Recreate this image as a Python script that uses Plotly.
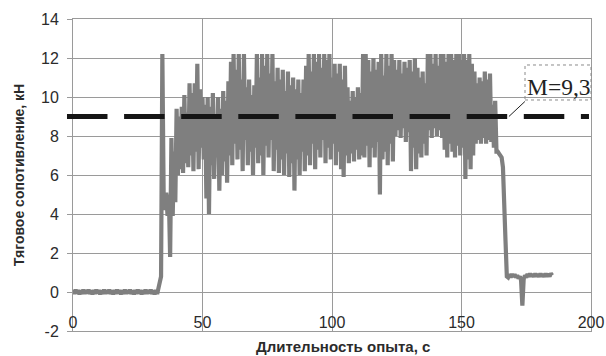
import plotly.graph_objects as go

SAMPLE_STEP = 0.5

baseline = [0.10, -0.10, 0.12, -0.08, 0.10, -0.12, 0.08, -0.10, 0.12, -0.10,
            0.10, -0.08, 0.12, -0.10, 0.08, -0.12, 0.10, -0.10, 0.12, -0.08,
            0.10, -0.12, 0.08, -0.10, 0.12, -0.10, 0.10, -0.08, 0.12, -0.10,
            0.08, -0.12, 0.10, -0.10, 0.12, -0.08, 0.10, -0.12, 0.08, -0.10,
            0.12, -0.10, 0.10, -0.08, 0.12, -0.10, 0.08, -0.12, 0.10, -0.10,
            0.12, -0.08, 0.10, -0.12, 0.08, -0.10, 0.12, -0.10, 0.10, -0.08,
            0.12, -0.10, 0.08, -0.12, 0.10, -0.10]  # 0.0 .. 32.5 s

start = [0.2, 0.6, 0.8, 12.2, 5.0, 4.2, 5.1, 3.9, 5.0, 1.8,
         7.9, 3.9, 7.2, 4.6]  # 33.0 .. 39.5 s

working = [
    9.4, 6.0, 9.0, 6.3, 9.5, 6.1, 10.1, 6.6, 9.2, 6.4,        # 40-44
    10.7, 7.0, 10.2, 6.2, 10.7, 7.2, 11.7, 6.3, 10.4, 7.4,    # 45-49
    10.0, 6.8, 9.6, 4.8, 10.0, 4.0, 9.5, 6.5, 10.2, 5.8,      # 50-54
    9.1, 6.9, 10.0, 5.2, 9.4, 6.0, 10.3, 6.7, 9.8, 5.6,       # 55-59
    10.8, 7.0, 11.8, 6.5, 12.2, 7.6, 11.4, 6.8, 12.2, 7.3,    # 60-64
    10.9, 6.2, 12.2, 7.8, 10.5, 6.5, 10.9, 7.2, 10.1, 6.0,    # 65-69
    10.6, 7.4, 12.2, 6.6, 11.0, 7.0, 12.2, 6.0, 11.6, 7.5,    # 70-74
    12.2, 6.9, 11.2, 7.8, 12.2, 6.2, 10.8, 7.3, 11.5, 6.1,    # 75-79
    10.9, 6.8, 11.4, 6.0, 10.3, 7.1, 11.3, 5.9, 10.6, 6.6,    # 80-84
    11.0, 5.2, 10.4, 6.8, 10.9, 6.0, 10.2, 7.2, 10.9, 6.2,    # 85-89
    11.6, 7.0, 12.2, 6.5, 11.3, 7.6, 12.2, 6.3, 11.8, 7.3,    # 90-94
    12.2, 6.9, 11.5, 7.8, 12.2, 6.6, 11.9, 7.4, 12.2, 6.8,    # 95-99
    11.0, 7.6, 11.7, 6.5, 11.2, 7.2, 11.7, 6.3, 10.9, 5.9,    # 100-104
    11.6, 7.0, 10.5, 6.6, 9.8, 7.1, 10.3, 6.7, 10.0, 7.3,     # 105-109
    10.5, 6.8, 10.2, 7.0, 12.2, 6.9, 12.2, 7.5, 11.9, 6.4,    # 110-114
    11.3, 7.4, 12.0, 6.9, 11.4, 7.7, 11.8, 5.0, 12.2, 6.8,    # 115-119
    11.1, 7.2, 12.2, 6.5, 11.6, 7.6, 12.2, 6.7, 11.9, 8.0,    # 120-124
    11.4, 8.3, 11.9, 7.9, 11.2, 8.4, 11.8, 7.7, 11.5, 8.2,    # 125-129
    11.9, 6.2, 11.3, 7.4, 12.0, 6.3, 11.5, 7.1, 11.0, 6.9,    # 130-134
    11.3, 7.6, 10.7, 7.0, 12.2, 8.3, 12.2, 7.9, 11.7, 8.4,    # 135-139
    12.2, 8.0, 11.6, 8.3, 12.2, 7.9, 12.2, 7.3, 11.8, 6.9,    # 140-144
    12.2, 7.6, 12.2, 7.2, 11.9, 6.9, 12.2, 7.5, 12.2, 7.0,    # 145-149
    11.9, 7.4, 12.2, 5.8, 11.9, 6.8, 12.2, 6.3, 11.7, 7.0,    # 150-154
    11.3, 7.6, 10.7, 7.8, 11.0, 7.6, 10.8, 7.9, 11.3, 7.6,    # 155-159
    10.9, 7.8, 11.2, 7.7, 9.6, 7.4, 9.8, 7.2,                 # 160-163
]

stop = [7.2, 7.1, 7.0, 6.9, 6.4, 5.0, 2.6, 0.8, 0.75]  # 164.0 .. 168.0 s

tail = [0.90, 0.75, 0.92, 0.78, 0.90, 0.75, 0.85, 0.70, 0.80, 0.60,
        -0.70, 0.65, 0.85, 0.75, 0.92, 0.78, 0.95, 0.80, 0.92, 0.78,
        0.95, 0.80, 0.92, 0.78, 0.95, 0.80, 0.92, 0.78, 0.95, 0.80,
        0.92, 0.80, 0.95, 0.85]  # 168.5 .. 185.0 s

force = baseline + start + working + stop + tail
time = [SAMPLE_STEP * i for i in range(len(force))]

MEAN_LEVEL = 9.0
MEAN_LABEL = "M=9,3"
MEAN_LABEL_AT = 168.3

X_TICKS = [0, 50, 100, 150, 200]
Y_TICKS = [-2, 0, 2, 4, 6, 8, 10, 12, 14]

X_TITLE = "Длительность опыта, с"
Y_TITLE = "Тяговое сопотивление, кН"

GRID = "#9a9a9a"
TXT = "#2b2b2b"

fig = go.Figure()
fig.add_trace(go.Scatter(
    x=time, y=force, mode="lines",
    line=dict(color="#7f7f7f", width=4.2),
    showlegend=False, hoverinfo="skip",
))

# mean level dashed line
fig.add_shape(
    type="line", xref="paper", yref="y",
    x0=-0.0116, x1=0.9961, y0=MEAN_LEVEL, y1=MEAN_LEVEL,
    line=dict(color="#151515", width=5, dash="40.5px,16.6px"),
    layer="above",
)

# dotted label box
fig.add_shape(
    type="rect", xref="paper", yref="paper",
    x0=0.8726, x1=1.0, y0=0.7404, y1=0.8526,
    line=dict(color="#8a8a8a", width=1, dash="dot"),
    fillcolor="rgba(255,255,255,0)", layer="above",
)

fig.add_annotation(
    x=MEAN_LABEL_AT, y=MEAN_LEVEL, xref="x", yref="y",
    text=MEAN_LABEL, showarrow=True, arrowhead=0, arrowwidth=1,
    arrowcolor="#202020", ax=16, ay=-15,
    xanchor="left", yanchor="bottom",
    font=dict(family="Liberation Serif", size=23.5, color="#222222"),
    borderpad=1, bgcolor="rgba(0,0,0,0)",
)

fig.add_annotation(
    x=0.521, y=-0.05, xref="paper", yref="paper",
    text="<b>" + X_TITLE + "</b>", showarrow=False,
    xanchor="center", yanchor="middle",
    font=dict(family="Liberation Sans", size=15, color=TXT),
)
fig.add_annotation(
    x=-0.104, y=0.5, xref="paper", yref="paper",
    text="<b>" + Y_TITLE + "</b>", showarrow=False, textangle=-90,
    xanchor="center", yanchor="middle",
    font=dict(family="Liberation Sans", size=14, color=TXT),
)

fig.update_xaxes(
    range=[0, 200], tickvals=X_TICKS, ticktext=[str(v) for v in X_TICKS],
    showgrid=True, gridcolor=GRID, gridwidth=1,
    showline=True, linecolor=GRID, linewidth=1, mirror=True,
    zeroline=False, ticks="", automargin=False,
    ticklabelposition="inside", ticklabeloverflow="allow",
    tickfont=dict(family="Liberation Sans", size=16, color=TXT),
)
fig.update_yaxes(
    range=[-2, 14], tickvals=Y_TICKS, ticktext=[str(v) for v in Y_TICKS],
    showgrid=True, gridcolor=GRID, gridwidth=1,
    showline=True, linecolor=GRID, linewidth=1, mirror=True,
    zeroline=False, ticks="outside", ticklen=5, tickcolor=GRID,
    ticklabelstandoff=5, automargin=False,
    tickfont=dict(family="Liberation Sans", size=16, color=TXT),
)

fig.update_layout(
    width=606, height=356,
    margin=dict(l=73, r=15, t=19, b=25),
    paper_bgcolor="white", plot_bgcolor="white",
    showlegend=False,
)

fig.write_html("out.html")
